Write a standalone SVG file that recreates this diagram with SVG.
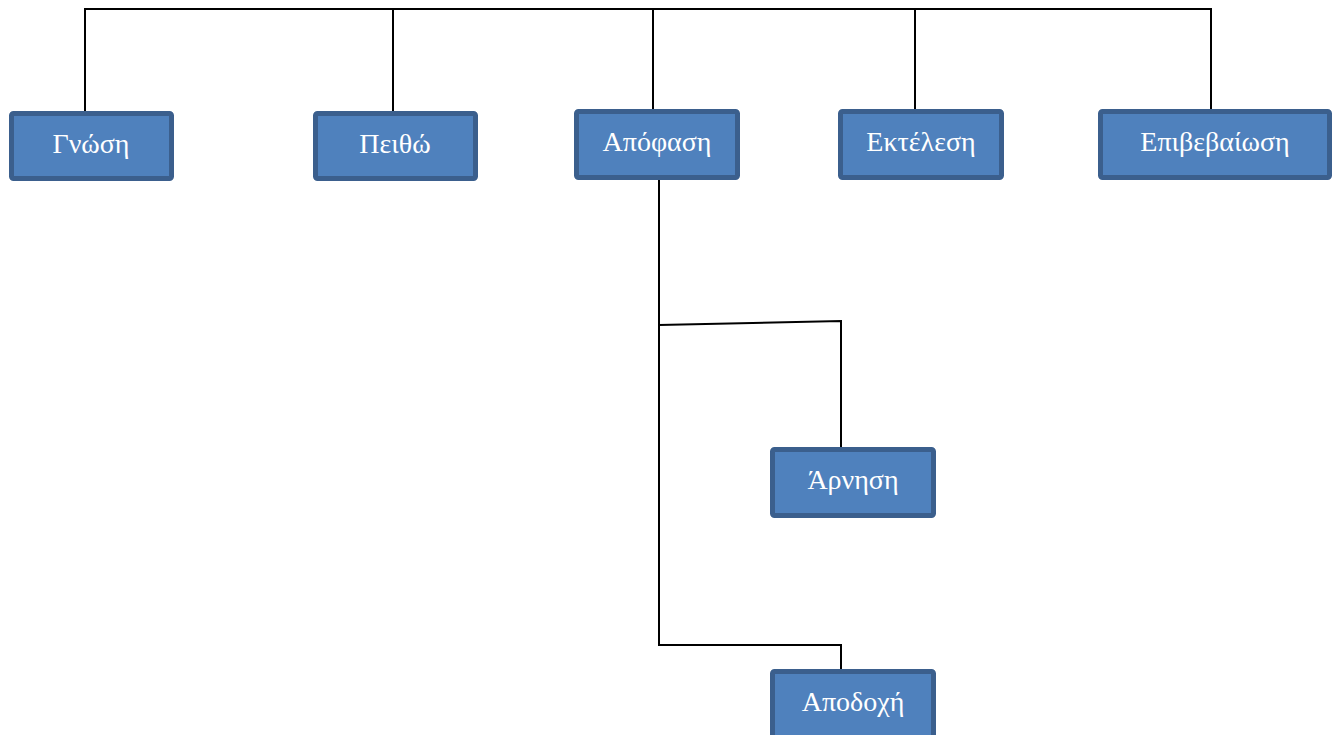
<svg xmlns="http://www.w3.org/2000/svg" width="1336" height="735" viewBox="0 0 1336 735">
<style>
.box{fill:#4f81bd;stroke:#3b5f8d;stroke-width:5}
.lbl{font-family:"Liberation Serif","DejaVu Serif",serif;font-size:28px;fill:#ffffff;text-anchor:middle;dominant-baseline:central}
.con{fill:none;stroke:#000000;stroke-width:2}
</style>
<rect width="1336" height="735" fill="#ffffff"/>
<g id="connectors">
<polyline class="con" points="85,112 85,9 1211,9 1211,110"/>
<line class="con" x1="393" y1="9" x2="393" y2="112"/>
<line class="con" x1="653" y1="9" x2="653" y2="110"/>
<line class="con" x1="915" y1="9" x2="915" y2="110"/>
<polyline class="con" points="659,179 659,645 841,645 841,669"/>
<polyline class="con" points="659,325 841,321 841,447"/>
</g>
<g id="node-gnosi"><rect class="box" x="11.5" y="113.5" width="160" height="65" rx="2"/><text class="lbl" x="91" y="143">Γνώση</text></g>
<g id="node-peitho"><rect class="box" x="315.5" y="113.5" width="160" height="65" rx="2"/><text class="lbl" x="395" y="143">Πειθώ</text></g>
<g id="node-apofasi"><rect class="box" x="576.5" y="111.5" width="161" height="66" rx="2"/><text class="lbl" x="657" y="141">Απόφαση</text></g>
<g id="node-ektelesi"><rect class="box" x="840.5" y="111.5" width="161" height="66" rx="2"/><text class="lbl" x="921" y="141">Εκτέλεση</text></g>
<g id="node-epivevaiosi"><rect class="box" x="1100.5" y="111.5" width="229" height="66" rx="2"/><text class="lbl" x="1215" y="141">Επιβεβαίωση</text></g>
<g id="node-arnisi"><rect class="box" x="772.5" y="449.5" width="161" height="66" rx="2"/><text class="lbl" x="853" y="479">Άρνηση</text></g>
<g id="node-apodochi"><rect class="box" x="772.5" y="671.5" width="161" height="66" rx="2"/><text class="lbl" x="853" y="701">Αποδοχή</text></g>
</svg>
